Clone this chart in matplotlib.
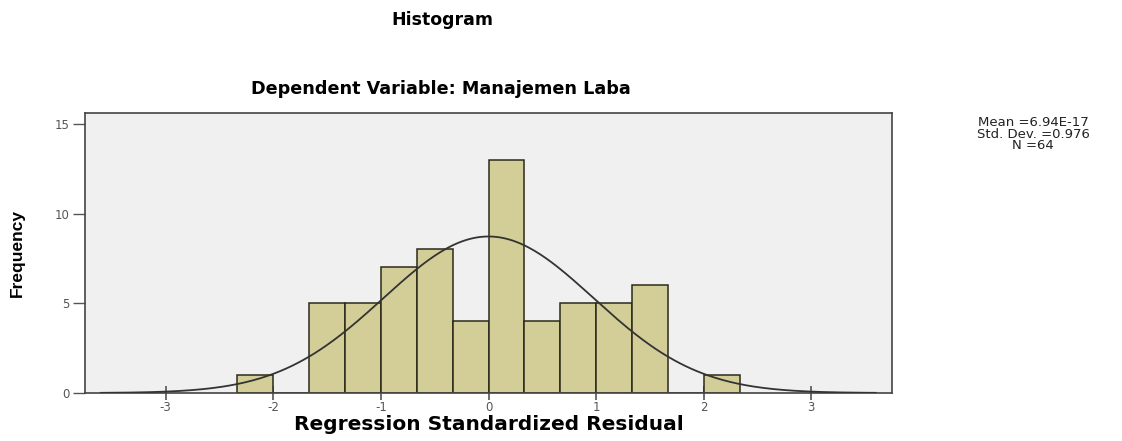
import numpy as np
import matplotlib
matplotlib.use("Agg")
import matplotlib.pyplot as plt

# ---- data ----
bin_edges = [-7/3, -2, -5/3, -4/3, -1, -2/3, -1/3, 0, 1/3, 2/3, 1, 4/3, 5/3, 2, 7/3]
counts = [1, 0, 5, 5, 7, 8, 4, 13, 4, 5, 5, 6, 0, 1]
mean_val = 6.94e-17
sd_val = 0.976
n_val = 64
x_ticks = [-3, -2, -1, 0, 1, 2, 3]
y_ticks = [0, 5, 10, 15]

plt.rcParams['font.family'] = ['DejaVu Sans']

W, H = 1122, 441
fig = plt.figure(figsize=(W/100, H/100), dpi=100)
fig.patch.set_facecolor('white')

ax = fig.add_axes([85/W, 1-393/H, (892-85)/W, (393-113)/H])
ax.set_facecolor('#F0F0F0')

lefts = np.array(bin_edges[:-1])
widths = np.diff(bin_edges)
ax.bar(lefts, counts, width=widths, align='edge', color='#D3CE97',
       edgecolor='#2a2a1a', linewidth=1.1, zorder=2)

bw = widths[0]
xs = np.linspace(-3.6, 3.6, 400)
ys = n_val * bw / (sd_val * np.sqrt(2*np.pi)) * np.exp(-0.5*((xs-mean_val)/sd_val)**2)
ax.plot(xs, ys, color='#333333', linewidth=1.3, zorder=3)

ax.set_xlim(-3.75, 3.75)
ax.set_ylim(0, 15.6)
ax.set_xticks(x_ticks)
ax.set_xticklabels([str(t) for t in x_ticks])
ax.set_yticks(y_ticks)
ax.tick_params(axis='x', direction='inout', length=10, width=1.2, color='#555555',
               labelsize=8.5, labelcolor='#555555', pad=1)
ax.tick_params(axis='y', direction='out', length=9, width=1.0, color='#555555',
               labelsize=8.5, labelcolor='#555555', pad=2)
for s in ax.spines.values():
    s.set_color('#444444')
    s.set_linewidth(1.2)

ax.set_xlabel('Regression Standardized Residual', fontsize=14.5, fontweight='bold')
ax.xaxis.set_label_coords(0.5, -0.08)
ax.set_ylabel('Frequency', fontsize=12.5, fontweight='bold',
              family=['Liberation Sans Narrow', 'Liberation Sans'])
ax.yaxis.set_label_coords(-0.075, 0.5)

fig.text(442/W, 1-20/H, 'Histogram', ha='center', va='center', fontsize=12.5,
         fontweight='bold')
fig.text(441/W, 1-89/H, 'Dependent Variable: Manajemen Laba', ha='center', va='center',
         fontsize=12.7, fontweight='bold')

fig.text(1033/W, 1-134/H, 'Mean =6.94E-17\nStd. Dev. =0.976\nN =64', ha='center',
         va='center', fontsize=9.5, linespacing=0.85, color='#222222')

fig.savefig('out.png', dpi=100)
